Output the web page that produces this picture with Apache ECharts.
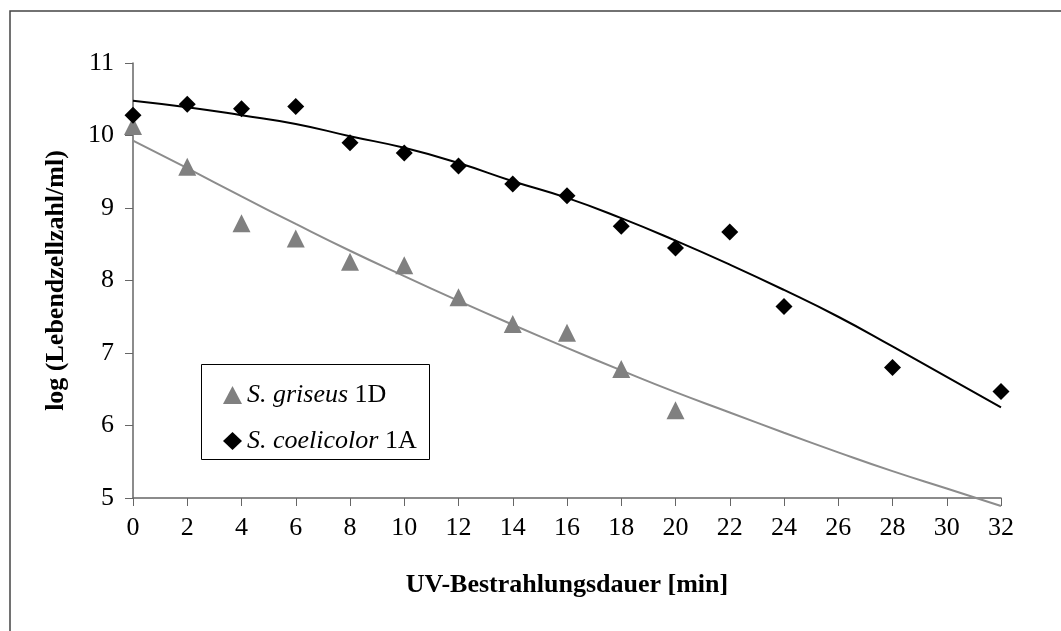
<!DOCTYPE html>
<html>
<head>
<meta charset="utf-8">
<script src="https://cdn.jsdelivr.net/npm/echarts@6/dist/echarts.min.js"></script>
<style>
  html, body { margin: 0; padding: 0; background: #fff; }
  #main { width: 1061px; height: 631px; }
</style>
</head>
<body>
<div id="main"></div>
<script>
// Überlebenskurven nach UV-Bestrahlung
var griseusX = [0, 2, 4, 6, 8, 10, 12, 14, 16, 18, 20];
var griseusY = [10.13, 9.57, 8.79, 8.58, 8.26, 8.21, 7.77, 7.40, 7.28, 6.78, 6.21];
var coelicolorX = [0, 2, 4, 6, 8, 10, 12, 14, 16, 18, 20, 22, 24, 28, 32];
var coelicolorY = [10.28, 10.43, 10.37, 10.40, 9.90, 9.76, 9.58, 9.33, 9.17, 8.75, 8.45, 8.67, 7.64, 6.80, 6.47];

// Trendlinien
var fitX = [0, 2, 4, 6, 8, 10, 12, 14, 16, 18, 20, 22, 24, 26, 28, 30, 32];
var griseusFit = [9.93, 9.55, 9.16, 8.78, 8.41, 8.06, 7.72, 7.39, 7.07, 6.76, 6.46, 6.18, 5.90, 5.63, 5.37, 5.13, 4.89];
var coelicolorFit = [10.48, 10.39, 10.28, 10.16, 9.99, 9.83, 9.62, 9.37, 9.14, 8.86, 8.55, 8.22, 7.87, 7.50, 7.09, 6.67, 6.25];

var xTicks = [0, 32, 2];
var yTicks = [5, 11, 1];

function pairs(xs, ys) {
    var out = [];
    for (var i = 0; i < xs.length; i++) {
        out.push([xs[i], ys[i]]);
    }
    return out;
}

var font = '"Liberation Serif", "Times New Roman", serif';

var option = {
    backgroundColor: '#fff',
    animation: false,
    textStyle: { fontFamily: font, color: '#000' },
    grid: { left: 133, right: 60, top: 63, bottom: 133 },
    graphic: [
        {
            type: 'rect',
            shape: { x: 10, y: 11, width: 1100, height: 700 },
            style: { fill: 'none', stroke: '#444', lineWidth: 1.5 },
            silent: true
        },
        {
            type: 'rect',
            shape: { x: 201.5, y: 364.5, width: 228, height: 95 },
            style: { fill: '#fff', stroke: '#000', lineWidth: 1 },
            z: 5,
            silent: true
        }
    ],
    legend: {
        orient: 'vertical',
        left: 218,
        top: 377,
        z: 10,
        itemWidth: 19,
        itemHeight: 18,
        itemGap: 20,
        data: ['S. griseus 1D', 'S. coelicolor 1A'],
        formatter: function (name) {
            var parts = name.split(' ');
            return '{i|' + parts[0] + ' ' + parts[1] + '} ' + parts[2];
        },
        textStyle: {
            fontFamily: font,
            fontSize: 26,
            lineHeight: 26,
            color: '#000',
            rich: {
                i: { fontFamily: font, fontSize: 26, fontStyle: 'italic', color: '#000' }
            }
        }
    },
    xAxis: {
        type: 'value',
        min: xTicks[0],
        max: xTicks[1],
        interval: xTicks[2],
        name: 'UV-Bestrahlungsdauer [min]',
        nameLocation: 'middle',
        nameGap: 74,
        nameTextStyle: { fontFamily: font, fontSize: 26, fontWeight: 'bold', color: '#000' },
        axisLine: { show: true, lineStyle: { color: '#666', width: 1.5 } },
        axisTick: { show: true, inside: false, length: 8, lineStyle: { color: '#666' } },
        axisLabel: { fontFamily: font, fontSize: 26, color: '#000', margin: 17 },
        splitLine: { show: false }
    },
    yAxis: {
        type: 'value',
        min: yTicks[0],
        max: yTicks[1],
        interval: yTicks[2],
        name: 'log (Lebendzellzahl/ml)',
        nameLocation: 'middle',
        nameGap: 64,
        nameTextStyle: { fontFamily: font, fontSize: 26, fontWeight: 'bold', color: '#000' },
        axisLine: { show: true, lineStyle: { color: '#666', width: 1.5 } },
        axisTick: { show: true, inside: false, length: 8, lineStyle: { color: '#666' } },
        axisLabel: { fontFamily: font, fontSize: 26, color: '#000', margin: 19 },
        splitLine: { show: false }
    },
    series: [
        {
            name: 'griseus fit',
            type: 'line',
            smooth: true,
            showSymbol: false,
            clip: false,
            lineStyle: { color: '#8c8c8c', width: 2 },
            data: pairs(fitX, griseusFit),
            z: 2
        },
        {
            name: 'coelicolor fit',
            type: 'line',
            smooth: true,
            showSymbol: false,
            lineStyle: { color: '#000', width: 2 },
            data: pairs(fitX, coelicolorFit),
            z: 2
        },
        {
            name: 'S. griseus 1D',
            type: 'scatter',
            symbol: 'triangle',
            symbolSize: 18,
            itemStyle: { color: '#808080', opacity: 1 },
            data: pairs(griseusX, griseusY),
            z: 3
        },
        {
            name: 'S. coelicolor 1A',
            type: 'scatter',
            symbol: 'diamond',
            symbolSize: 17,
            itemStyle: { color: '#000', opacity: 1 },
            data: pairs(coelicolorX, coelicolorY),
            z: 3
        }
    ]
};

var chart = echarts.init(document.getElementById('main'));
chart.setOption(option);
window.onresize = function () {
    chart.resize();
};
</script>
</body>
</html>
